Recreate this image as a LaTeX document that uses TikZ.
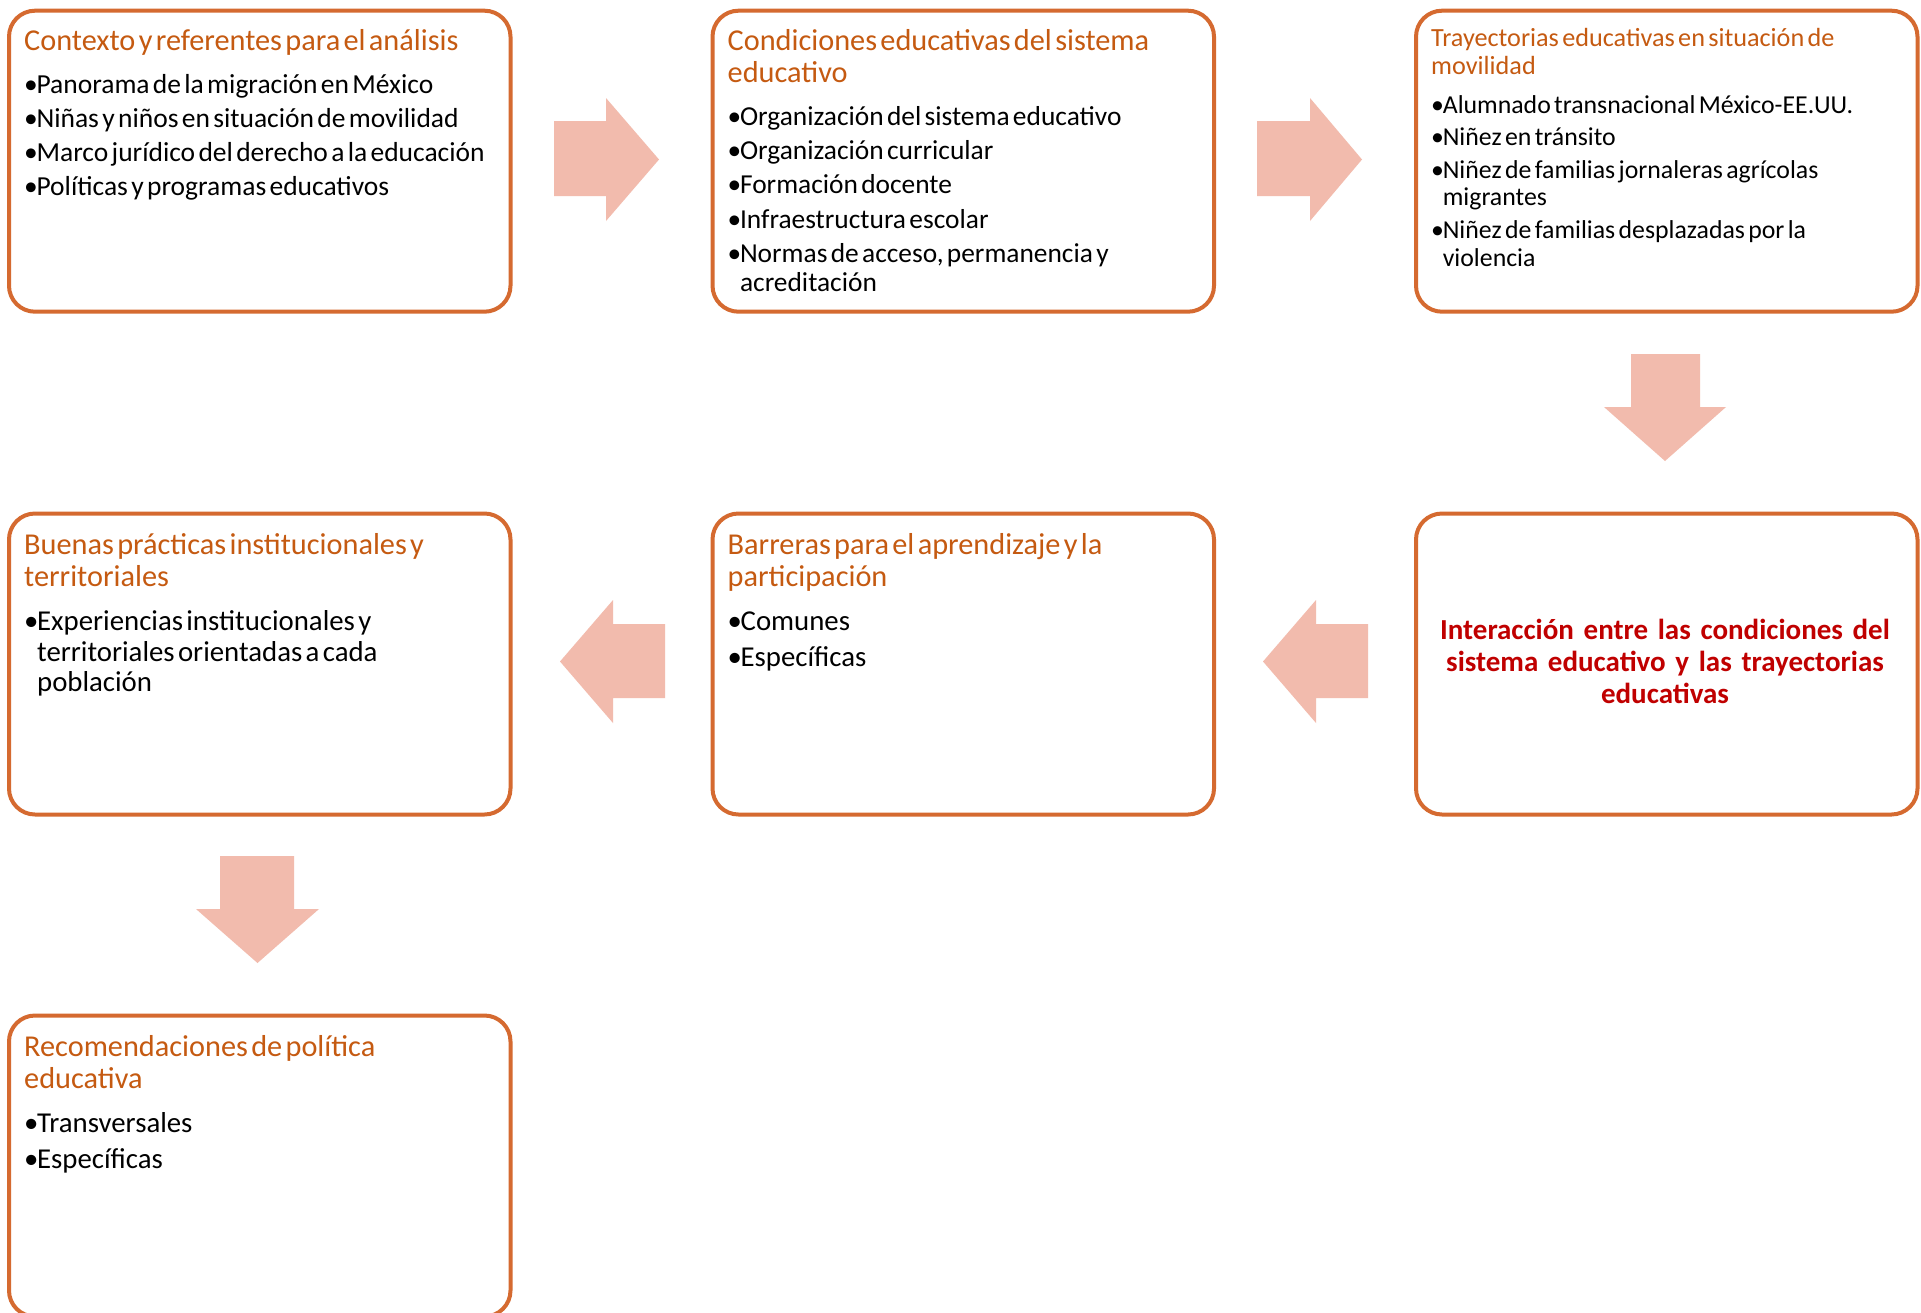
\documentclass[tikz,border=0pt]{standalone}
\usepackage{fontspec}
\setmainfont{Carlito}[WordSpace=1.3]
\newfontfamily\redfont{Carlito}
\usetikzlibrary{calc}
\definecolor{bordc}{RGB}{213,106,48}
\definecolor{ttlc}{RGB}{197,90,17}
\definecolor{arrc}{RGB}{242,187,173}
\definecolor{redc}{RGB}{192,0,0}
\newcommand\hs{\vrule height 24pt depth 0pt width 0pt}
\newcommand\bul[1]{\par\noindent\hangindent=0.45em\hangafter=1\makebox[0.45em][l]{•}#1}
\newcommand\ttlset[2]{\setlength\parindent{0pt}\fontsize{#1}{#2}\selectfont\color{ttlc}\noindent\hs}
\newcommand\bodyset[4]{\par\fontsize{#1}{#2}\selectfont\color{black}\setlength\parskip{#3}\vspace*{#4}}
\tikzset{
  box/.style={draw=bordc, line width=4pt, rounded corners=26pt, fill=white,
    anchor=north west, minimum width=501.5pt, minimum height=301pt, inner sep=0pt},
  txt/.style={anchor=north west, inner sep=0pt, text width=485pt, align=left},
  blockarrow/.style={fill=arrc, draw=none},
}
\begin{document}
\begin{tikzpicture}[x=1pt,y=-1pt]
\path[use as bounding box] (0,0) rectangle (1921,1312);
\clip (0,0) rectangle (1921,1312);
\fill[white] (0,0) rectangle (1921,1312);

% boxes
\node[box] (b1) at (7,8.7) {};
\node[box] (b2) at (710.5,8.7) {};
\node[box] (b3) at (1414,8.7) {};
\node[box] (b4) at (7,511.5) {};
\node[box] (b5) at (710.5,511.5) {};
\node[box] (b6) at (1414,511.5) {};
\node[box] (b7) at (7,1013.5) {};

% texts
\node[txt] (t1) at (24,26) {\ttlset{30.3}{32}Contexto y referentes para el análisis
 \bodyset{27.5}{29.2}{4.8pt}{9pt}%
 \bul{Panorama de la migración en México}
 \bul{Niñas y niños en situación de movilidad}
 \bul{Marco jurídico del derecho a la educación}
 \bul{Políticas y programas educativos}\par};

\node[txt] (t2) at (727.5,26) {\ttlset{30.3}{32}Condiciones educativas del sistema\newline educativo
 \bodyset{27.4}{29.2}{5pt}{9pt}%
 \bul{Organización del sistema educativo}
 \bul{Organización curricular}
 \bul{Formación docente}
 \bul{Infraestructura escolar}
 \bul{Normas de acceso, permanencia y\newline acreditación}\par};

\node[txt] (t3) at (1431,22.7) {\ttlset{26.2}{27.6}Trayectorias educativas en situación de\newline movilidad
 \bodyset{25.8}{27.7}{4.8pt}{6.2pt}%
 \bul{Alumnado transnacional México-EE.UU.}
 \bul{Niñez en tránsito}
 \bul{Niñez de familias jornaleras agrícolas\newline migrantes}
 \bul{Niñez de familias desplazadas por la\newline violencia}\par};

\node[txt] (t4) at (24,530.2) {\ttlset{30.3}{32}Buenas prácticas institucionales y\newline territoriales
 \bodyset{28.8}{30.7}{5pt}{8.3pt}%
 \bul{Experiencias institucionales y\newline territoriales orientadas a cada\newline población}\par};

\node[txt] (t5) at (727.5,530.2) {\ttlset{30.3}{32}Barreras para el aprendizaje y la\newline participación
 \bodyset{28.8}{30.7}{5.8pt}{7.5pt}%
 \bul{Comunes}
 \bul{Específicas}\par};

\node[anchor=north, inner sep=0pt, text width=480pt, align=center,
  font=\redfont\fontsize{29}{32}\selectfont\bfseries, text=redc] (t6) at (1665,615.7)
  {\hs Interacción entre las condiciones del\\ sistema educativo y las trayectorias\\ educativas};

\node[txt] (t7) at (24,1032) {\ttlset{30.3}{32}Recomendaciones de política\newline educativa
 \bodyset{28.8}{30.7}{5.3pt}{8pt}%
 \bul{Transversales}
 \bul{Específicas}\par};

% block arrows
\fill[blockarrow] (554,121) -- (606,121) -- (606,98) -- (659,159.5) -- (606,221) -- (606,196) -- (554,196) -- cycle;
\fill[blockarrow] (1257,121) -- (1310,121) -- (1310,98) -- (1362,159.5) -- (1310,221) -- (1310,196) -- (1257,196) -- cycle;
\fill[blockarrow] (1631,354) -- (1700,354) -- (1700,407) -- (1726,407) -- (1665,461) -- (1604,407) -- (1631,407) -- cycle;
\fill[blockarrow] (1368,624) -- (1316,624) -- (1316,600) -- (1263,661.5) -- (1316,723) -- (1316,698) -- (1368,698) -- cycle;
\fill[blockarrow] (665,624) -- (613,624) -- (613,600) -- (560,661.5) -- (613,723) -- (613,698) -- (665,698) -- cycle;
\fill[blockarrow] (220,856) -- (294,856) -- (294,909) -- (319,909) -- (257.5,963) -- (196,909) -- (220,909) -- cycle;
\end{tikzpicture}
\end{document}
